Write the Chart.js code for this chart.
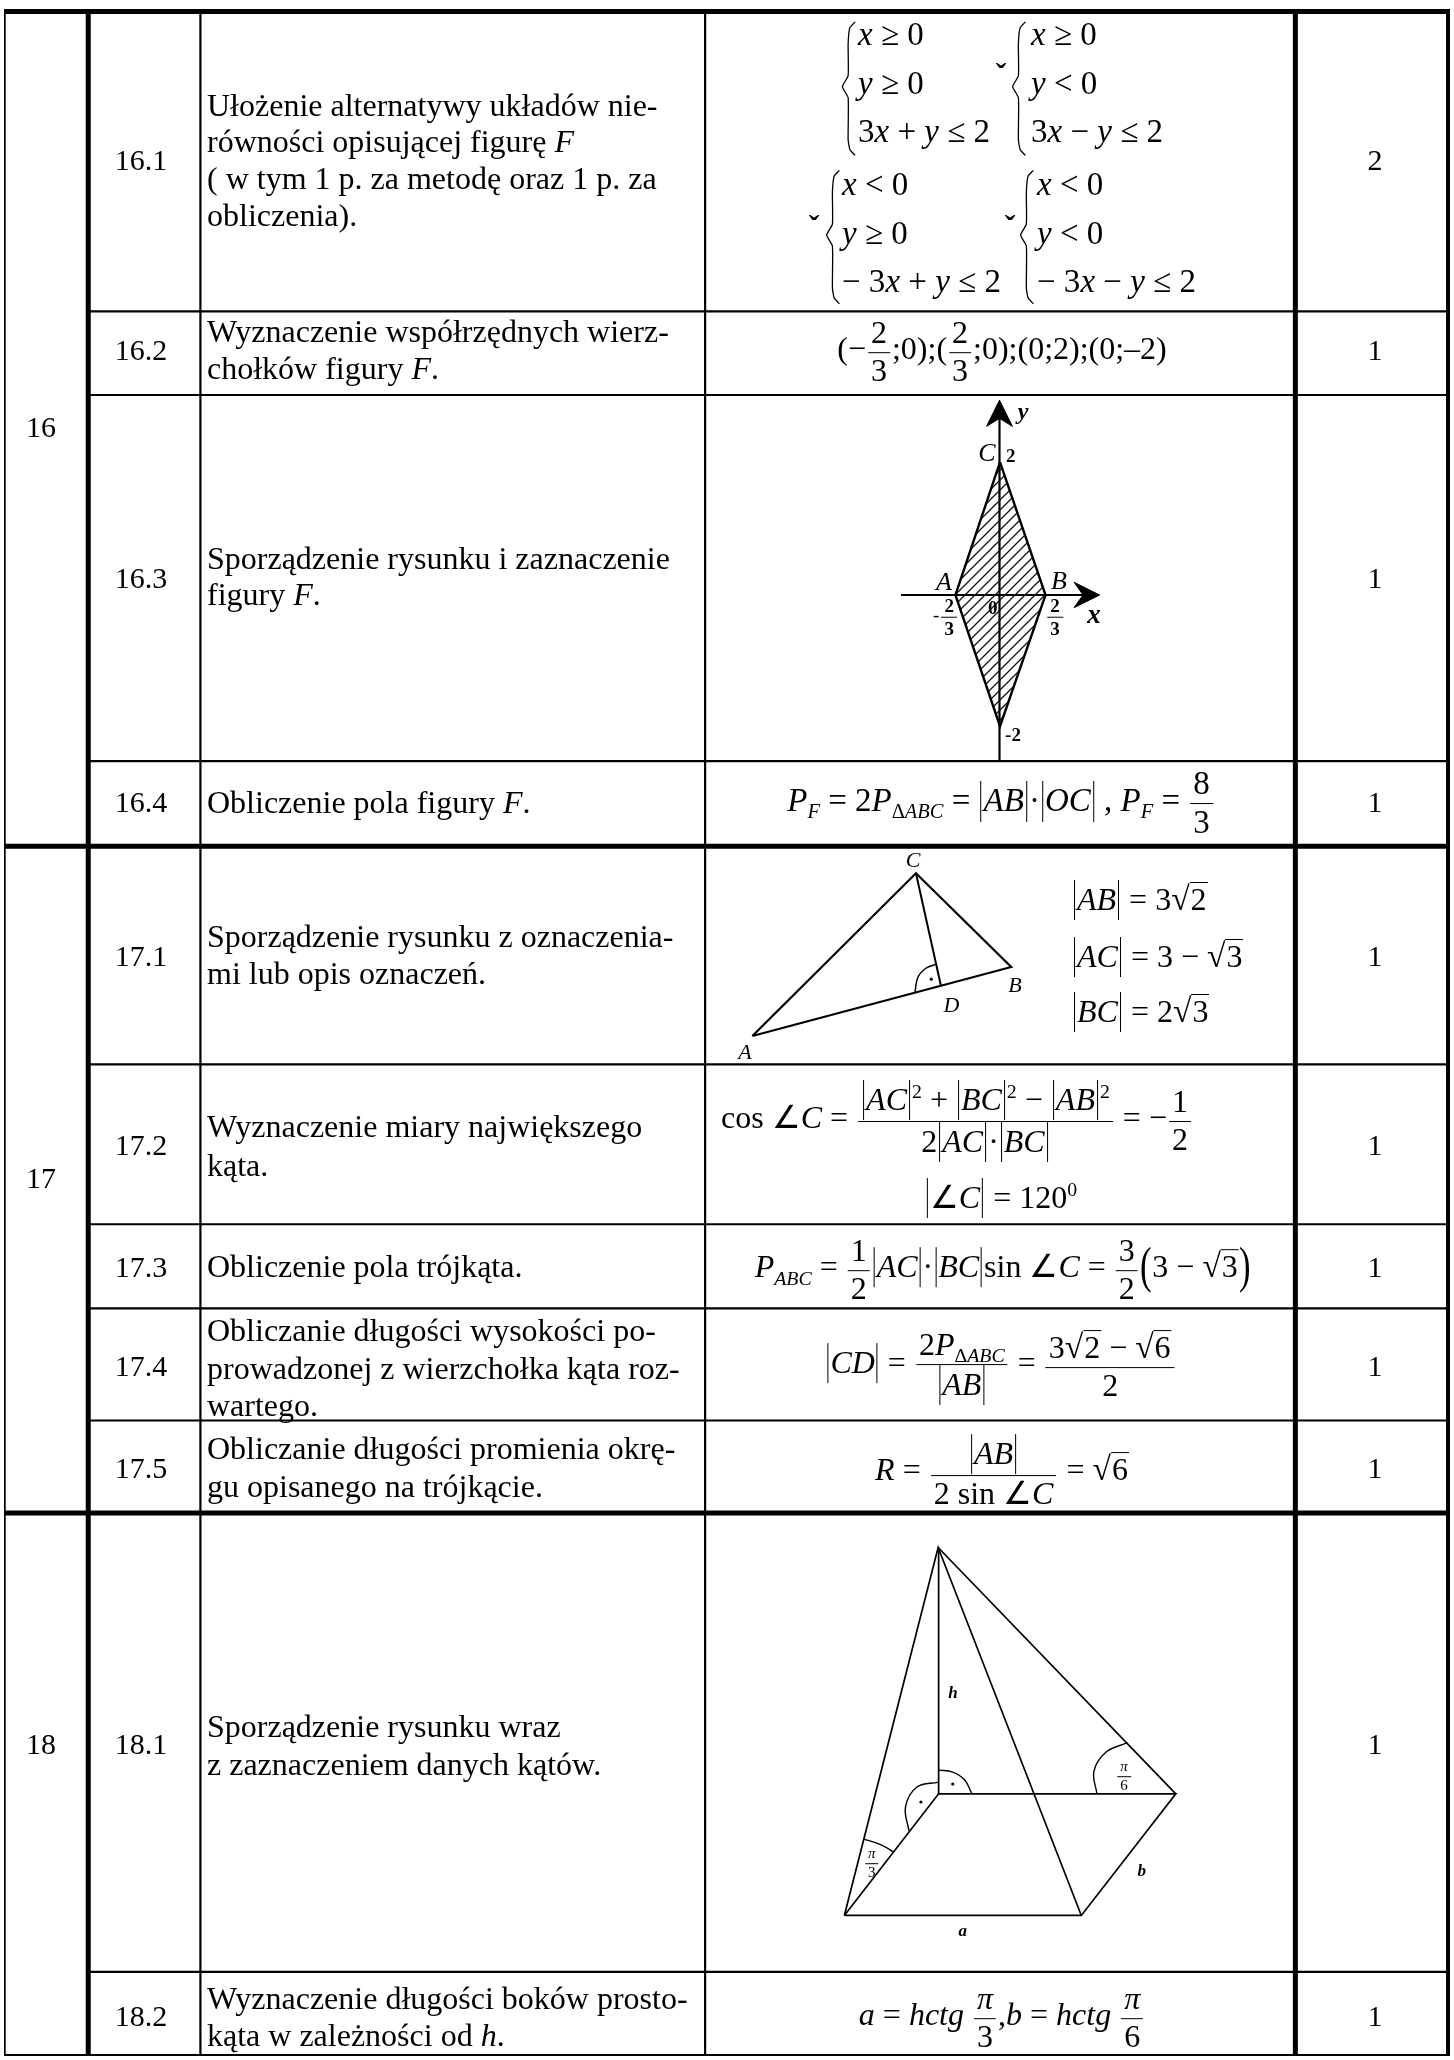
<!DOCTYPE html>
<html lang="pl"><head><meta charset="utf-8">
<script src="https://cdn.jsdelivr.net/npm/chart.js@4"></script>
<style>
html,body{margin:0;padding:0;background:#fff}
#page{position:relative;width:1454px;height:2060px;overflow:hidden;font-family:"Liberation Serif",serif;color:#000}
canvas{position:absolute;left:0;top:0}
.t{position:absolute;white-space:nowrap;font-size:30px;line-height:1}
.c{transform:translate(-50%,-50%)}.l{transform:translateY(-50%)}
i{font-style:italic}
.fr{display:inline-block;vertical-align:middle;text-align:center;margin:0 2px}
.fr>span{display:block;padding:0 3px;line-height:1.12}
.fr>span:first-child{border-bottom:1.6px solid #000;padding-bottom:1px}
.ab{display:inline-block;border-left:1.7px solid #000;border-right:1.7px solid #000;padding:3px 2px 5px;margin:0 2px;line-height:1;vertical-align:baseline}
.sq{border-top:1.6px solid #000;padding:0 1px;display:inline-block;line-height:1.02}
.pa{display:inline-block;font-size:1.55em;vertical-align:-.1em;transform:scaleX(.7);margin:0 -2px}
sub,sup{font-size:.62em;line-height:0}
</style></head><body><div id="page"><canvas id="c" width="1454" height="2060"></canvas></div>
<script>
// ---------- table content ----------
const taskNumbers=["16","17","18"];
const subNumbers=["16.1","16.2","16.3","16.4","17.1","17.2","17.3","17.4","17.5","18.1","18.2"];
const pointValues=["2","1","1","1","1","1","1","1","1","1","1"];
const descriptions=[
 ["Ułożenie alternatywy układów nie-","równości opisującej figurę <i>F</i>","( w tym 1 p. za metodę oraz 1 p. za","obliczenia)."],
 ["Wyznaczenie współrzędnych wierz-","chołków figury <i>F</i>."],
 ["Sporządzenie rysunku i zaznaczenie","figury <i>F</i>."],
 ["Obliczenie pola figury <i>F</i>."],
 ["Sporządzenie rysunku z oznaczenia-","mi lub opis oznaczeń."],
 ["Wyznaczenie miary największego","kąta."],
 ["Obliczenie pola trójkąta."],
 ["Obliczanie długości wysokości po-","prowadzonej z wierzchołka kąta roz-","wartego."],
 ["Obliczanie długości promienia okrę-","gu opisanego na trójkącie."],
 ["Sporządzenie rysunku wraz","z zaznaczeniem danych kątów."],
 ["Wyznaczenie długości boków prosto-","kąta w zależności od <i>h</i>."]];
// ---------- table rules and figure outlines, in page units ----------
const ruleXThin=[197.5,705];
const ruleXThick=[84.7,1298.5];
const ruleYThin=[308.5,392.5,760,1064.5,1225,1309.5,1422,1975.5];
const ruleYThick=[7.5,845.5,1515];
const rhombus=[[1001.5,460],[1047.3,593.3],[1001.5,725],[956.7,593.3],[1001.5,460]];
const axisX=[[902,593.3],[1088,593.3]];
const axisY=[[1001,412],[1001,760]];
const arrowX=[[1101.7,593.3],[1076,580.5],[1085,593.3],[1076,606],[1101.7,593.3]];
const arrowY=[[1001,397.7],[988,424],[1001,416],[1014,424],[1001,397.7]];
const triangle=[[752.5,1036],[917,872.7],[1012.8,966.7],[752.5,1036]];
const triangleAltitude=[[917,872.7],[942,985]];
const triangleArc=[[916,992],[919,977],[927,968],[937.4,964]];
const pyramidEdges=[[[845,1918.9],[939.3,1549.5],[1083.3,1918.9]],[[939.3,1549.5],[1178.3,1796.8]],[[939.8,1549.5],[939.8,1796.8]],
 [[845,1918.9],[1083.3,1918.9],[1178.3,1796.8],[939.8,1796.8],[845,1918.9]]];
const pyramidArcs=[[[973.3,1796.8],[966,1783],[954,1775],[939.8,1773]],
 [[939.8,1785],[918,1790],[906.5,1810],[910,1834]],
 [[864,1842],[882,1848],[894,1855],[894,1855.5]],
 [[1099,1796.8],[1096,1774],[1108,1755],[1129.5,1745.5]]];
const dots=[[932.4,979],[954,1787],[922,1805]];
const braces=[
 [[855.8,18],[850.5,24],[848.8,40],[848.8,72],[843,83],[848.8,94],[848.8,136],[850.5,146],[855.8,152]],
 [[1027,18],[1021.7,24],[1020,40],[1020,72],[1014.2,83],[1020,94],[1020,136],[1021.7,146],[1027,152]],
 [[840,167],[834.7,173],[833,189],[833,221],[827.2,232],[833,243],[833,285],[834.7,295],[840,301]],
 [[1035,167],[1029.7,173],[1028,189],[1028,221],[1022.2,232],[1028,243],[1028,285],[1029.7,295],[1035,301]]];

const hatch=document.createElement('canvas');hatch.width=hatch.height=10;
{const g=hatch.getContext('2d');g.strokeStyle='#111';g.lineWidth=1.25;g.beginPath();g.moveTo(-1,11);g.lineTo(11,-1);g.moveTo(-1,1);g.lineTo(1,-1);g.moveTo(9,11);g.lineTo(11,9);g.stroke();}
const pat=hatch.getContext('2d').createPattern(hatch,'repeat');
const P=a=>a.map(p=>({x:p[0],y:p[1]}));
const line=(a,w,extra={})=>Object.assign({data:P(a),showLine:true,borderColor:'#000',borderWidth:w,pointRadius:0,fill:false,tension:0,borderCapStyle:'butt'},extra);
const ds=[];
ds.push(line(rhombus,2.4,{fill:'shape',backgroundColor:pat}));
[axisX,axisY].forEach(a=>ds.push(line(a,2.2)));
[arrowX,arrowY].forEach(a=>ds.push(line(a,1,{fill:'shape',backgroundColor:'#000'})));
ds.push(line(triangle,2.2),line(triangleAltitude,2));
ds.push(line(triangleArc,1.5,{tension:.4}));
pyramidEdges.forEach(a=>ds.push(line(a,1.7)));
pyramidArcs.forEach(a=>ds.push(line(a,1.4,{tension:.4})));
braces.forEach(a=>ds.push(line(a,1.3,{tension:.15})));
ds.push({data:P(dots),pointRadius:1.6,pointBackgroundColor:'#000',pointBorderWidth:0,showLine:false});
ruleXThin.forEach(x=>ds.push(line([[x,8],[x,2060]],2.2)));
ruleXThick.forEach(x=>ds.push(line([[x,5],[x,2060]],5)));
ds.push(line([[0.8,5],[0.8,2060]],1.8),line([[1452,5],[1452,2060]],4));
ruleYThin.forEach(y=>ds.push(line([[85,y],[1454,y]],2.2)));
ds.push(line([[0,2059],[1454,2059]],2.2));
ruleYThick.forEach(y=>ds.push(line([[0,y],[1454,y]],5)));
new Chart(document.getElementById('c'),{type:'scatter',data:{datasets:ds},options:{responsive:false,animation:false,events:[],layout:{padding:0},
 plugins:{legend:{display:false},tooltip:{enabled:false},title:{display:false}},
 scales:{x:{type:'linear',display:false,min:0,max:1454},y:{type:'linear',display:false,min:0,max:2060,reverse:true}}}});

// ---------- text ----------
const page=document.getElementById('page');
function put(x,y,html,cls='c',fs){const d=document.createElement('div');d.className='t '+cls;d.style.left=x+'px';d.style.top=y+'px';if(fs)d.style.fontSize=fs+'px';d.innerHTML=html;page.appendChild(d);return d;}
const F=(a,b)=>`<span class="fr"><span>${a}</span><span>${b}</span></span>`;
const A=s=>`<span class="ab">${s}</span>`;
const R=s=>`<span style="font-size:1.05em">√</span><span class="sq">${s}</span>`;
const V=s=>`<i>${s}</i>`;
const subCY=[160,350,578,802,956,1145,1267,1366,1468,1744,2016];
const taskCY=[427,1178,1744];
const lineCY=[[105,141,178,215],[331,368],[558,594],[802],[936,973],[1126,1165],[1266],[1330,1368,1405],[1448,1486],[1726,1764],[1998,2035]];
taskNumbers.forEach((s,i)=>put(41,taskCY[i],s));
subNumbers.forEach((s,i)=>{put(141,subCY[i],s);put(1375,subCY[i],pointValues[i]);});
descriptions.forEach((ls,i)=>ls.forEach((s,j)=>put(207,lineCY[i][j],s,'l',32)));

// inequality systems
const sysRowsY=[[43,92,140],[193,242,290]];
const systems=[
 {x:858,r:0,rows:[`${V('x')} ≥ 0`,`${V('y')} ≥ 0`,`3${V('x')} + ${V('y')} ≤ 2`]},
 {x:1031,r:0,rows:[`${V('x')} ≥ 0`,`${V('y')} &lt; 0`,`3${V('x')} − ${V('y')} ≤ 2`]},
 {x:842,r:1,rows:[`${V('x')} &lt; 0`,`${V('y')} ≥ 0`,`− 3${V('x')} + ${V('y')} ≤ 2`]},
 {x:1037,r:1,rows:[`${V('x')} &lt; 0`,`${V('y')} &lt; 0`,`− 3${V('x')} − ${V('y')} ≤ 2`]}];
systems.forEach(s=>s.rows.forEach((h,i)=>put(s.x,sysRowsY[s.r][i]-9,h,'l',33)));
[[1001,74],[814,226],[1010,226]].forEach(p=>put(p[0],p[1],'<b>ˇ</b>','c',32));
const mathLines=[
 [1002,352,32,`(−${F('2','3')};0);(${F('2','3')};0);(0;2);(0;–2)`],
 [1001,803,33,`${V('P')}<sub><i>F</i></sub> = 2${V('P')}<sub>Δ<i>ABC</i></sub> = ${A(V('AB'))}·${A(V('OC'))} , ${V('P')}<sub><i>F</i></sub> = ${F('8','3')}`],
 [957,1121,32,`cos ∠${V('C')} = ${F(`${A(V('AC'))}<sup>2</sup> + ${A(V('BC'))}<sup>2</sup> − ${A(V('AB'))}<sup>2</sup>`,`2${A(V('AC'))}·${A(V('BC'))}`)} = −${F('1','2')}`],
 [1001,1198,32,`${A('∠'+V('C'))} = 120<sup>0</sup>`],
 [1003,1270,32,`${V('P')}<sub><i>ABC</i></sub> = ${F('1','2')}${A(V('AC'))}·${A(V('BC'))}sin ∠${V('C')} = ${F('3','2')}<span class="pa">(</span>3 − ${R('3')}<span class="pa">)</span>`],
 [1001,1366,32,`${A(V('CD'))} = ${F(`2${V('P')}<sub>Δ<i>ABC</i></sub>`,A(V('AB')))} = ${F(`3${R('2')} − ${R('6')}`,'2')}`],
 [1002,1473,32,`${V('R')} = ${F(A(V('AB')),`2 sin ∠${V('C')}`)} = ${R('6')}`],
 [1002,2018,32,`${V('a')} = ${V('hctg')} ${F(V('π'),'3')},${V('b')} = ${V('hctg')} ${F(V('π'),'6')}`]];
mathLines.forEach(m=>put(m[0],m[1],m[3],'c',m[2]));
const rightList=[[900,`${A(V('AB'))} = 3${R('2')}`],[957,`${A(V('AC'))} = 3 − ${R('3')}`],[1012,`${A(V('BC'))} = 2${R('3')}`]];
rightList.forEach(m=>put(1072,m[0],m[1],'l',32));

// figure labels
const figLabels=[[944,582,'A',26],[1059,581,'B',26],[987,453,'C',26],[913,860,'C',22],[745,1052,'A',22],[1015,985,'B',22],[951.5,1005,'D',22]];
figLabels.forEach(a=>put(a[0],a[1],V(a[2]),'c',a[3]));
const boldLabels=[[1094,614,'x',27],[1023,411,'y',24],[953,1692,'h',17],[1141.7,1870,'b',17],[962.7,1930,'a',17]];
boldLabels.forEach(a=>put(a[0],a[1],`<b><i>${a[2]}</i></b>`,'c',a[3]));
const digitLabels=[[1010.7,455,'2'],[1013,734,'-2'],[992.7,607,'0']];
digitLabels.forEach(a=>put(a[0],a[1],`<b>${a[2]}</b>`,'c',19));
put(946,617,`-${F('<b>2</b>','<b>3</b>')}`,'c',19);
put(1055,617,F('<b>2</b>','<b>3</b>'),'c',19);
put(1124,1776,F(V('π'),'6'),'c',15);
put(871.7,1863,F(V('π'),'3'),'c',15);
</script></body></html>
